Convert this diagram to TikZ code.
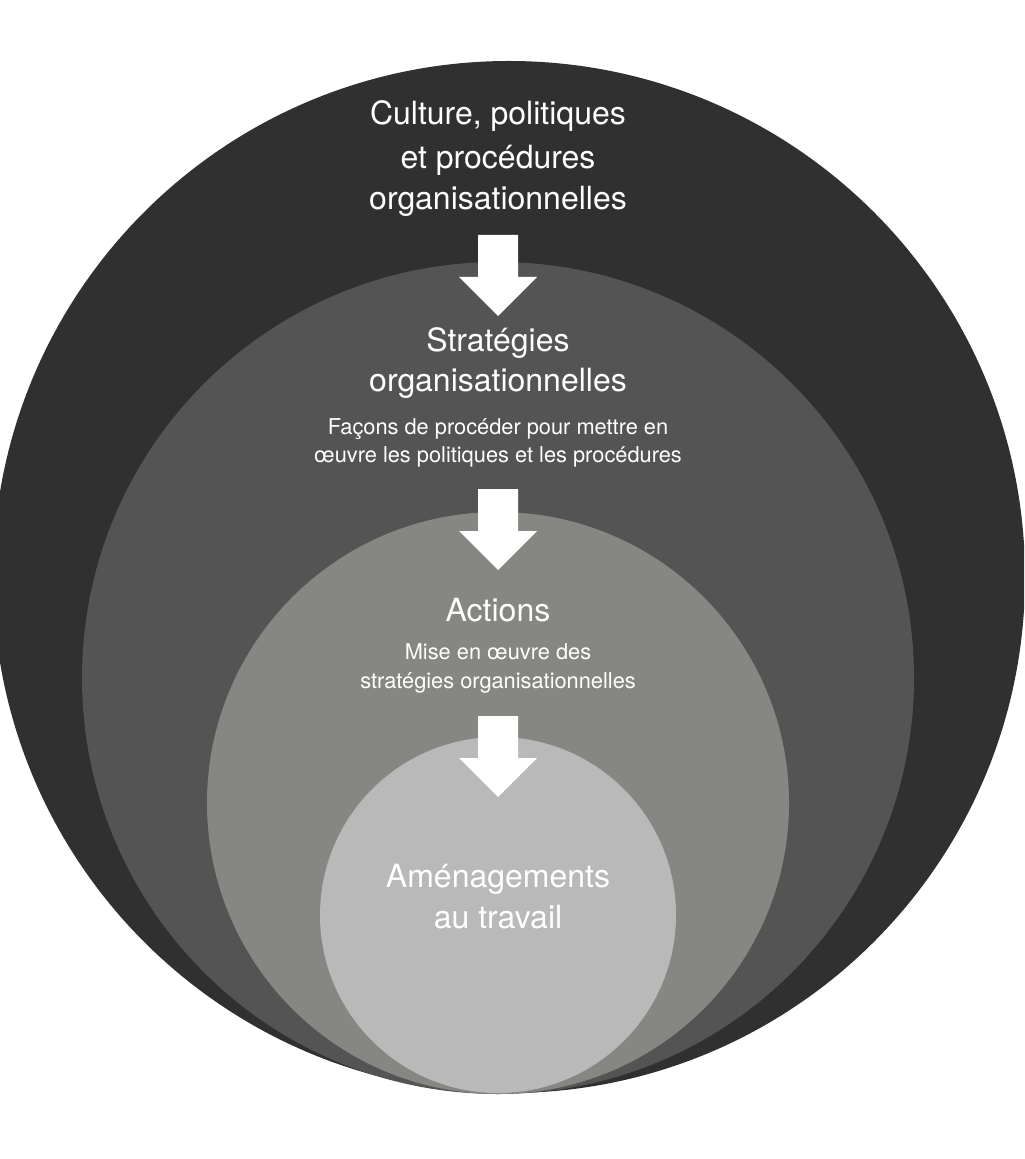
\documentclass[tikz,border=0pt]{standalone}
\usepackage{fontspec}
\setmainfont{TeX Gyre Heros}
\definecolor{ringA}{HTML}{303030}
\definecolor{ringB}{HTML}{545454}
\definecolor{ringC}{HTML}{868682}
\definecolor{ringD}{HTML}{B9B9B9}
\begin{document}
\begin{tikzpicture}[x=0.5pt,y=-0.5pt,
  bigtxt/.style={text=white,inner sep=0pt,anchor=base,font=\fontsize{16}{20}\selectfont},
  smalltxt/.style={text=white,inner sep=0pt,anchor=base,font=\fontsize{10.9}{14}\selectfont},
  blockarrow/.style={fill=white,draw=none}]
\useasboundingbox (0,0) rectangle (1024,1159);
\begin{scope}
\clip (0,0) rectangle (1024,1159);
\fill[ringA] (509,577) circle (516);
\fill[ringB] (498,678) circle (416);
\fill[ringC] (498,803) circle (291);
\fill[ringD] (498,915) circle (178);
\end{scope}
% texts
\node[bigtxt] (c1) at (498,125) {Culture, politiques};
\node[bigtxt] (c2) at (498,169) {et procédures};
\node[bigtxt] (c3) at (498,210) {organisationnelles};
\node[bigtxt] (s1) at (498,352) {Stratégies};
\node[bigtxt] (s2) at (498,392) {organisationnelles};
\node[smalltxt] (s3) at (498,435) {Façons de procéder pour mettre en};
\node[smalltxt] (s4) at (498,463) {œuvre les politiques et les procédures};
\node[bigtxt] (a1) at (498,621) {Actions};
\node[smalltxt] (a2) at (498,659) {Mise en œuvre des};
\node[smalltxt] (a3) at (498,688) {stratégies organisationnelles};
\node[bigtxt] (m1) at (498,887) {Aménagements};
\node[bigtxt] (m2) at (498,928) {au travail};
% arrows
\foreach \nm/\yy in {arrA/235,arrB/489,arrC/716}{
  \coordinate (\nm) at (498,\yy);
  \fill[blockarrow] ([xshift=-10pt]\nm) -- ([xshift=10pt]\nm)
     -- ([xshift=10pt,yshift=-21pt]\nm) -- ([xshift=19.5pt,yshift=-21pt]\nm)
     -- ([yshift=-40.5pt]\nm) -- ([xshift=-19.5pt,yshift=-21pt]\nm)
     -- ([xshift=-10pt,yshift=-21pt]\nm) -- cycle;
}
\end{tikzpicture}
\end{document}
